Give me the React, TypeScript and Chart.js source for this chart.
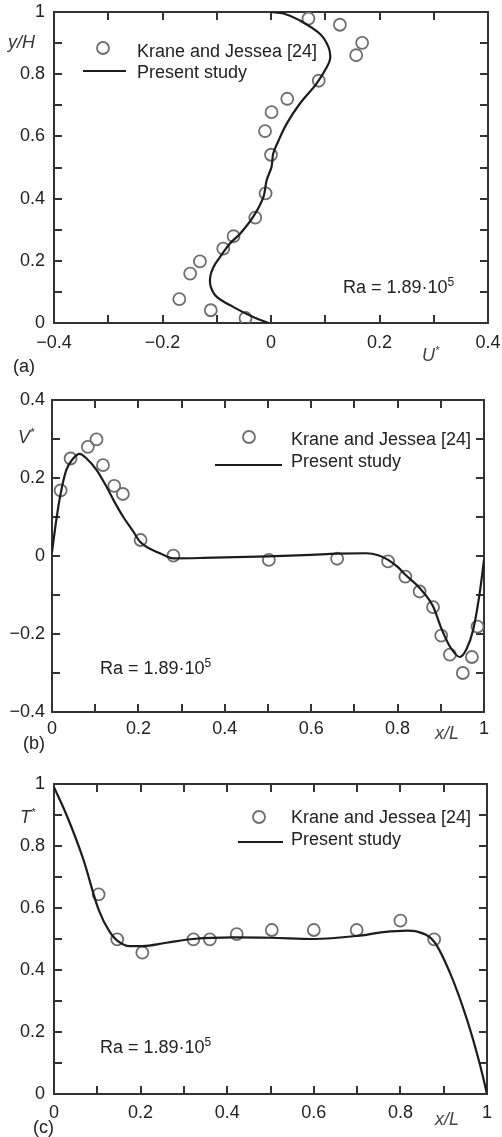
import React, { useEffect, useRef } from 'react';
import { Chart, registerables } from 'chart.js';

Chart.register(...registerables);

const FONT = '"Liberation Sans", Arial, Helvetica, sans-serif';

// ---------- Panel (a): U* vs y/H ----------
const aObsU = [0.069, 0.127, 0.168, 0.157, 0.088, 0.030, 0.001, -0.011, 0.000, -0.010, -0.029, -0.069, -0.088, -0.131, -0.149, -0.169, -0.111, -0.047];
const aObsY = [0.979, 0.959, 0.901, 0.861, 0.779, 0.721, 0.678, 0.617, 0.541, 0.417, 0.339, 0.279, 0.239, 0.198, 0.159, 0.077, 0.041, 0.016];
const aFitU = [-0.005, -0.033, -0.069, -0.100, -0.111, -0.112, -0.106, -0.094, -0.076, -0.057, -0.033, -0.014, -0.008, 0.001, 0.004, 0.014, 0.029, 0.053, 0.084, 0.103, 0.109, 0.106, 0.090, 0.053, 0.023, 0.000];
const aFitY = [0.000, 0.019, 0.051, 0.084, 0.116, 0.148, 0.180, 0.212, 0.255, 0.287, 0.341, 0.405, 0.459, 0.502, 0.544, 0.587, 0.641, 0.705, 0.770, 0.823, 0.850, 0.887, 0.930, 0.973, 0.995, 1.000];
const aXLabels = [-0.4, -0.2, 0, 0.2, 0.4];
const aYLabels = [0, 0.2, 0.4, 0.6, 0.8, 1];

// ---------- Panel (b): x/L vs V* ----------
const bObsX = [0.020, 0.043, 0.083, 0.103, 0.118, 0.144, 0.164, 0.205, 0.281, 0.502, 0.660, 0.778, 0.818, 0.851, 0.882, 0.901, 0.921, 0.951, 0.972, 0.985];
const bObsV = [0.168, 0.250, 0.280, 0.299, 0.233, 0.180, 0.159, 0.041, 0.001, -0.010, -0.007, -0.014, -0.053, -0.091, -0.131, -0.204, -0.253, -0.300, -0.259, -0.181];
const bFitX = [0.000, 0.010, 0.020, 0.033, 0.049, 0.064, 0.080, 0.103, 0.125, 0.144, 0.165, 0.188, 0.205, 0.250, 0.281, 0.350, 0.500, 0.600, 0.660, 0.728, 0.755, 0.778, 0.800, 0.818, 0.851, 0.882, 0.901, 0.921, 0.944, 0.959, 0.975, 0.990, 1.000];
const bFitV = [0.010, 0.093, 0.160, 0.220, 0.250, 0.262, 0.250, 0.221, 0.180, 0.140, 0.100, 0.063, 0.035, 0.007, -0.006, -0.005, -0.001, 0.003, 0.006, 0.007, 0.002, -0.010, -0.028, -0.048, -0.082, -0.129, -0.185, -0.232, -0.259, -0.240, -0.189, -0.095, -0.010];
const bXLabels = [0, 0.2, 0.4, 0.6, 0.8, 1];
const bYLabels = [-0.4, -0.2, 0, 0.2, 0.4];

// ---------- Panel (c): x/L vs T* ----------
const cObsX = [0.103, 0.146, 0.204, 0.322, 0.360, 0.422, 0.503, 0.600, 0.699, 0.800, 0.878];
const cObsT = [0.644, 0.499, 0.456, 0.499, 0.499, 0.516, 0.529, 0.529, 0.529, 0.559, 0.499];
const cFitX = [0.000, 0.029, 0.067, 0.103, 0.129, 0.146, 0.175, 0.204, 0.260, 0.322, 0.414, 0.500, 0.600, 0.700, 0.761, 0.815, 0.838, 0.878, 0.915, 0.954, 0.985, 1.000];
const cFitT = [0.990, 0.900, 0.760, 0.595, 0.522, 0.495, 0.477, 0.477, 0.488, 0.500, 0.505, 0.504, 0.500, 0.510, 0.522, 0.527, 0.524, 0.491, 0.389, 0.239, 0.088, 0.000];
const cXLabels = [0, 0.2, 0.4, 0.6, 0.8, 1];
const cYLabels = [0, 0.2, 0.4, 0.6, 0.8, 1];

const toPts = (xs: number[], ys: number[]) => xs.map((x, i) => ({ x, y: ys[i] }));

type Spec = {
  height: number;
  area: { left: number; right: number; top: number; bottom: number };
  xMin: number; xMax: number; yMin: number; yMax: number;
  xLabels: number[]; yLabels: number[];
  xPad: number; yPad: number;
  obs: { x: number; y: number }[];
  fit: { x: number; y: number }[];
  monotone: boolean;
};

const fmt = (v: number) => String(Math.round(v * 10) / 10).replace('-', '\u2212');
const has = (list: number[], v: number) => list.some((t) => Math.abs(t - v) < 1e-6);

const noPad = (sc: any) => {
  sc.paddingLeft = 0;
  sc.paddingRight = 0;
  sc.paddingTop = 0;
  sc.paddingBottom = 0;
};

function makeChart(canvas: HTMLCanvasElement, s: Spec) {
  const W = 502;
  const frame = '#333333';
  const grid = { drawOnChartArea: false, drawTicks: true, tickLength: -8, color: frame, lineWidth: 2 };
  const border = { display: true, color: frame, width: 2 };
  const tickFont = { family: FONT, size: 18 };
  return new Chart(canvas, {
    type: 'scatter',
    data: {
      datasets: [
        {
          label: 'Present study',
          data: s.fit,
          showLine: true,
          pointRadius: 0,
          borderColor: '#1c1c1c',
          borderWidth: 2.2,
          tension: s.monotone ? 0 : 0.35,
          cubicInterpolationMode: s.monotone ? 'monotone' : 'default',
          fill: false,
        },
        {
          label: 'Krane and Jessea [24]',
          data: s.obs,
          showLine: false,
          pointRadius: 6,
          pointBorderWidth: 1.8,
          pointBorderColor: '#6e6e6e',
          pointBackgroundColor: 'rgba(255,255,255,0)',
        },
      ],
    },
    options: {
      responsive: false,
      animation: false,
      devicePixelRatio: 1,
      events: [],
      layout: { padding: { left: 0, top: s.area.top, right: W - s.area.right, bottom: 0 } },
      plugins: { legend: { display: false }, tooltip: { enabled: false } },
      scales: {
        x: {
          type: 'linear', position: 'bottom', min: s.xMin, max: s.xMax, grid, border,
          ticks: {
            stepSize: 0.1, autoSkip: false, maxRotation: 0, padding: s.xPad, color: '#222', font: tickFont,
            callback: (v: any) => (has(s.xLabels, +v) ? fmt(+v) : ''),
          },
          afterFit: (sc: any) => { sc.height = s.height - s.area.bottom; noPad(sc); },
        },
        x2: {
          type: 'linear', position: 'top', min: s.xMin, max: s.xMax, grid, border,
          ticks: { stepSize: 0.1, display: false, autoSkip: false },
          afterFit: (sc: any) => { sc.height = 0; noPad(sc); },
        },
        y: {
          type: 'linear', position: 'left', min: s.yMin, max: s.yMax, grid, border,
          ticks: {
            stepSize: 0.1, autoSkip: false, padding: s.yPad, color: '#222', font: tickFont,
            callback: (v: any) => (has(s.yLabels, +v) ? fmt(+v) : ''),
          },
          afterFit: (sc: any) => { sc.width = s.area.left; noPad(sc); },
        },
        y2: {
          type: 'linear', position: 'right', min: s.yMin, max: s.yMax, grid, border,
          ticks: { stepSize: 0.1, display: false, autoSkip: false },
          afterFit: (sc: any) => { sc.width = 0; noPad(sc); },
        },
      },
    } as any,
  } as any);
}

const specA: Spec = {
  height: 380, area: { left: 54, right: 488, top: 12, bottom: 323 },
  xMin: -0.4, xMax: 0.4, yMin: 0, yMax: 1, xLabels: aXLabels, yLabels: aYLabels,
  xPad: 17, yPad: 17, obs: toPts(aObsU, aObsY), fit: toPts(aFitU, aFitY), monotone: false,
};
const specB: Spec = {
  height: 380, area: { left: 52, right: 484, top: 20, bottom: 332 },
  xMin: 0, xMax: 1, yMin: -0.4, yMax: 0.4, xLabels: bXLabels, yLabels: bYLabels,
  xPad: 14, yPad: 15, obs: toPts(bObsX, bObsV), fit: toPts(bFitX, bFitV), monotone: true,
};
const specC: Spec = {
  height: 377, area: { left: 54, right: 487, top: 24, bottom: 334 },
  xMin: 0, xMax: 1, yMin: 0, yMax: 1, xLabels: cXLabels, yLabels: cYLabels,
  xPad: 16, yPad: 17, obs: toPts(cObsX, cObsT), fit: toPts(cFitX, cFitT), monotone: true,
};

function Txt({ x, y, size = 18, italic = false, color = '#222', children }: any) {
  return (
    <div
      style={{
        position: 'absolute', left: x, top: y - size * 0.49, fontSize: size, lineHeight: `${size}px`,
        fontStyle: italic ? 'italic' : 'normal', color, whiteSpace: 'nowrap', fontFamily: FONT,
      }}
    >
      {children}
    </div>
  );
}

const Sup = ({ children, size = 12, dy = -7 }: any) => (
  <span style={{ position: 'relative', top: dy, fontSize: size }}>{children}</span>
);

function Legend({ cx, cy, lx1, lx2, ly, tx, ty1, ty2 }: any) {
  return (
    <>
      <svg style={{ position: 'absolute', left: 0, top: 0, overflow: 'visible' }} width={1} height={1}>
        <circle cx={cx} cy={cy} r={6} fill="none" stroke="#6e6e6e" strokeWidth={1.8} />
        <line x1={lx1} x2={lx2} y1={ly} y2={ly} stroke="#1c1c1c" strokeWidth={2.2} />
      </svg>
      <Txt x={tx} y={ty1}>Krane and Jessea [24]</Txt>
      <Txt x={tx} y={ty2}>Present study</Txt>
    </>
  );
}

const Ra = ({ x, y }: any) => (
  <Txt x={x} y={y}>
    Ra = 1.89·10<Sup>5</Sup>
  </Txt>
);

export default function App() {
  const ra = useRef<HTMLCanvasElement>(null);
  const rb = useRef<HTMLCanvasElement>(null);
  const rc = useRef<HTMLCanvasElement>(null);

  useEffect(() => {
    const charts = [
      makeChart(ra.current!, specA),
      makeChart(rb.current!, specB),
      makeChart(rc.current!, specC),
    ];
    return () => charts.forEach((c) => c.destroy());
  }, []);

  return (
    <div style={{ position: 'absolute', left: 0, top: 0, width: 502, height: 1137, background: '#fff', overflow: 'hidden' }}>
      <canvas ref={ra} width={502} height={380} style={{ position: 'absolute', left: 0, top: 0, width: 502, height: 380 }} />
      <canvas ref={rb} width={502} height={380} style={{ position: 'absolute', left: 0, top: 380, width: 502, height: 380 }} />
      <canvas ref={rc} width={502} height={377} style={{ position: 'absolute', left: 0, top: 760, width: 502, height: 377 }} />

      {/* Panel (a) */}
      <Legend cx={103} cy={48} lx1={83} lx2={126} ly={71} tx={137} ty1={51} ty2={72} />
      <Txt x={8} y={42} italic color="#333">y/H</Txt>
      <Txt x={422} y={355} italic color="#444">U<Sup size={11} dy={-7}>*</Sup></Txt>
      <Txt x={13} y={366}>(a)</Txt>
      <Ra x={343} y={287} />

      {/* Panel (b) */}
      <Legend cx={249} cy={437} lx1={215} lx2={282} ly={465} tx={291} ty1={439} ty2={461} />
      <Txt x={18} y={437} italic color="#333">V<Sup size={11} dy={-7}>*</Sup></Txt>
      <Txt x={435} y={733} italic color="#444">x/L</Txt>
      <Txt x={23} y={743}>(b)</Txt>
      <Ra x={100} y={668} />

      {/* Panel (c) */}
      <Legend cx={259} cy={817} lx1={238} lx2={283} ly={842} tx={291} ty1={817} ty2={839} />
      <Txt x={20} y={817} italic color="#333">T<Sup size={11} dy={-7}>*</Sup></Txt>
      <Txt x={435} y={1119} italic color="#444">x/L</Txt>
      <Txt x={33} y={1127}>(c)</Txt>
      <Ra x={100} y={1047} />
    </div>
  );
}
